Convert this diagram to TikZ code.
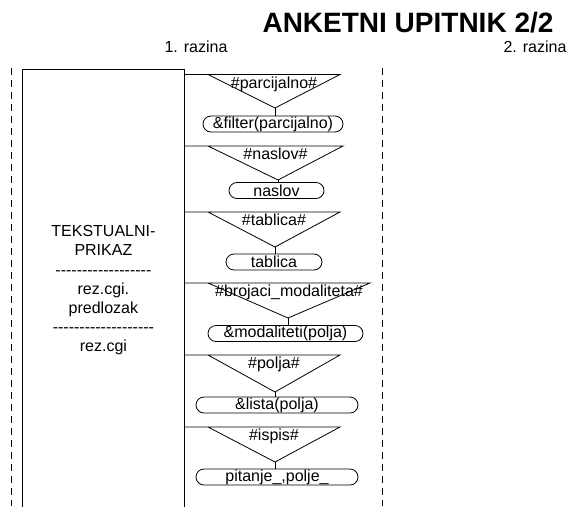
\documentclass[tikz,border=0pt]{standalone}
\usepackage{fontspec}
\setmainfont{Liberation Sans}
\usetikzlibrary{positioning,calc}
\tikzset{
  level line/.style={draw=black,line width=0.8pt},
  cut line/.style={draw=black,line width=0.8pt,dash pattern=on 7pt off 5pt},
  pill node/.style={draw,rounded corners=8pt,line width=0.8pt,minimum height=16pt,
    inner sep=0pt,font=\fontsize{16}{19}\selectfont},
  tag node/.style={inner sep=0pt,anchor=base,font=\fontsize{16}{19}\selectfont},
  panel node/.style={draw,line width=0.8pt,minimum width=162pt,minimum height=442pt,
    anchor=north west,align=center,font=\fontsize{16}{19.2}\selectfont}
}
\newcommand{\dashrow}[1]{\foreach \k in {1,...,#1}{-\kern0pt}}

\begin{document}
\begin{tikzpicture}[x=1pt,y=-1pt]
  \useasboundingbox (0,0) rectangle (569,506);
  \node[anchor=base,inner sep=0pt,font=\fontsize{28}{30}\selectfont\bfseries] (title) at (408,32)
    {ANKETNI UPITNIK 2/2};
  \node[tag node] (lev1) at (196,52) {1. razina};
  \node[tag node] (lev2) at (535,52) {2. razina};
  \draw[cut line] (11,68) -- (11,506);
  \draw[cut line] (382,68) -- (382,506);
  \node[panel node] (panel) at (22,69)
    {TEKSTUALNI-\\PRIKAZ\\\dashrow{18}\\rez.cgi.\\predlozak\\\dashrow{19}\\rez.cgi};
  % levels: top y / right corner / apex / call box centre and width / texts
  \foreach \n/\ty/\tr/\ax/\ay/\bx/\by/\bw/\lbl/\txt in {
      1/74.5/340/275/108/273/124/140/{\#parcijalno\#}/{\&filter(parcijalno)},
      2/146/343/278/180/276.5/190.5/95/{\#naslov\#}/{naslov},
      3/212/340/275/247/274/262/96/{\#tablica\#}/{tablica},
      4/283/370/288/318/285.5/333.5/155/{\#brojaci\_modaliteta\#}/{\&modaliteti(polja)},
      5/355/340/275/392/277/405/162/{\#polja\#}/{\&lista(polja)},
      6/427/340/275/462/277/477/162/{\#ispis\#}/{pitanje\_,polje\_}} {
    \coordinate (tl\n) at (208,\ty);
    \coordinate (tr\n) at (\tr,\ty);
    \coordinate (apex\n) at (\ax,\ay);
    \node[tag node] (tag\n) at ({(208+\tr)/2},{\ty+13.5}) {\lbl};
    \node[pill node,minimum width=\bw pt] (call\n) at (\bx,\by) {\txt};
    \draw[level line] (panel.east |- tr\n) -- (tr\n) -- (apex\n) -- (tl\n);
    \draw[level line] (apex\n) -- (apex\n |- call\n.north);
  }
\end{tikzpicture}
\end{document}
